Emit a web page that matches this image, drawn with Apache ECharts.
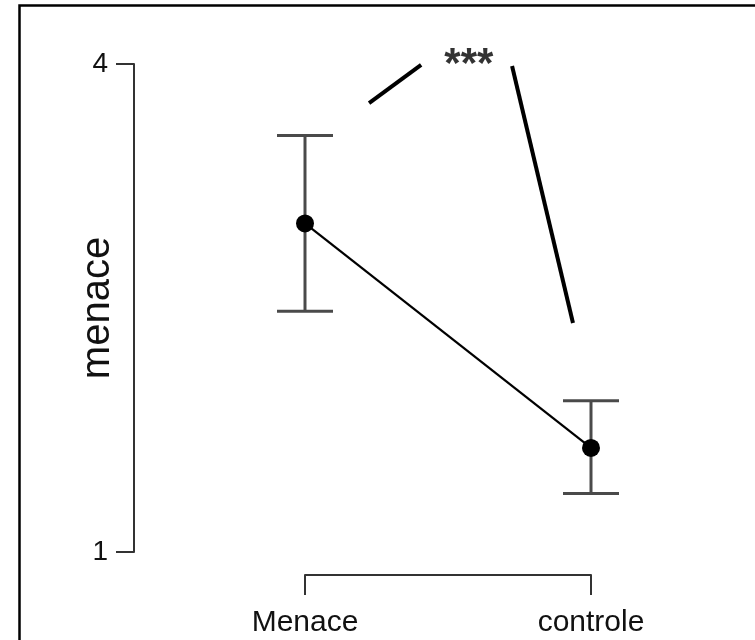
<!DOCTYPE html>
<html>
<head>
<meta charset="utf-8">
<script src="https://cdn.jsdelivr.net/npm/echarts@6/dist/echarts.min.js"></script>
<style>
html,body{margin:0;padding:0;background:#fff;}
#chart{width:755px;height:640px;}
</style>
</head>
<body>
<div id="chart"></div>
<script>
// Data
var categories = ['Menace', 'controle'];
var means = [3.02, 1.64];
var lowers = [2.48, 1.36];
var uppers = [3.56, 1.93];
var yTicks = [1, 4];
var yAxisName = 'menace';
var sigLabel = '***';
// significance annotation segments (data coordinates)
var sigSegA = [[0.224, 3.76], [0.406, 3.994]];
var sigSegB = [[0.724, 3.988], [0.937, 2.408]];
var sigPos = [0.573, 3.99];

var chart = echarts.init(document.getElementById('chart'));
var FONT = 'Liberation Sans, Arial, sans-serif';

var meanData = means.map(function (m, i) { return [i, m]; });
var errData = means.map(function (m, i) { return [i, lowers[i], uppers[i]]; });

var option = {
  backgroundColor: '#fff',
  animation: false,
  graphic: [{
    type: 'rect',
    shape: { x: 19.5, y: 5.5, width: 800, height: 700 },
    style: { fill: 'none', stroke: '#000', lineWidth: 2.5 },
    silent: true
  }],
  grid: { left: 305, right: 164, top: 64, bottom: 88, containLabel: false },
  xAxis: {
    type: 'value', min: 0, max: categories.length - 1, interval: 1,
    position: 'bottom', offset: 23,
    axisLine: { show: true, onZero: false, lineStyle: { color: '#333', width: 2 } },
    axisTick: { show: true, length: 20, lineStyle: { color: '#333', width: 2 } },
    axisLabel: {
      formatter: function (v) { return categories[Math.round(v)] || ''; },
      fontSize: 30, color: '#111', margin: 33, fontFamily: FONT
    },
    splitLine: { show: false }
  },
  yAxis: {
    type: 'value', min: yTicks[0], max: yTicks[1], interval: yTicks[1] - yTicks[0],
    position: 'left', offset: 171,
    name: yAxisName, nameLocation: 'middle', nameRotate: 90, nameGap: 16,
    nameMoveOverlap: false,
    nameTextStyle: { fontSize: 40, color: '#111', fontFamily: FONT },
    axisLine: { show: true, onZero: false, lineStyle: { color: '#333', width: 2 } },
    axisTick: { show: true, length: 18, lineStyle: { color: '#333', width: 2 } },
    axisLabel: { fontSize: 28, color: '#111', margin: 26, fontFamily: FONT },
    splitLine: { show: false }
  },
  series: [
    {
      type: 'custom',
      data: errData,
      z: 2,
      renderItem: function (params, api) {
        var x = api.value(0);
        var lo = api.coord([x, api.value(1)]);
        var hi = api.coord([x, api.value(2)]);
        var hw = 28;
        var st = { stroke: '#4a4a4a', lineWidth: 3 };
        return {
          type: 'group',
          children: [
            { type: 'line', shape: { x1: lo[0], y1: lo[1], x2: hi[0], y2: hi[1] }, style: st },
            { type: 'line', shape: { x1: lo[0] - hw, y1: lo[1], x2: lo[0] + hw, y2: lo[1] }, style: st },
            { type: 'line', shape: { x1: hi[0] - hw, y1: hi[1], x2: hi[0] + hw, y2: hi[1] }, style: st }
          ]
        };
      }
    },
    {
      type: 'line',
      data: meanData,
      z: 3,
      symbol: 'circle', symbolSize: 18,
      itemStyle: { color: '#000' },
      lineStyle: { color: '#000', width: 2.2 }
    },
    {
      type: 'line', data: sigSegA, clip: false, symbol: 'none', z: 3,
      lineStyle: { color: '#000', width: 4 }
    },
    {
      type: 'line', data: sigSegB, clip: false, symbol: 'none', z: 3,
      lineStyle: { color: '#000', width: 4 }
    },
    {
      type: 'scatter', data: [sigPos], symbolSize: 0, clip: false,
      label: {
        show: true, position: 'inside', formatter: sigLabel,
        fontSize: 42, fontWeight: 'bold', color: '#000', fontFamily: FONT
      }
    }
  ]
};
chart.setOption(option);
</script>
</body>
</html>
